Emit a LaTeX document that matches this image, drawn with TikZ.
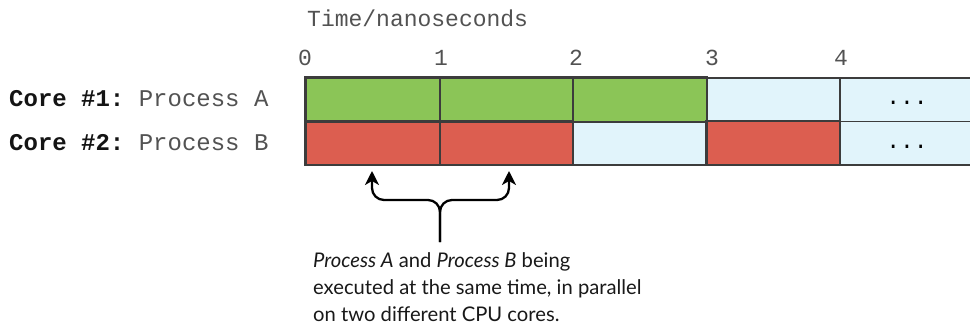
\documentclass[tikz,border=0pt]{standalone}
\usepackage{fontspec}
\setmonofont{Liberation Mono}
\newfontfamily\notefont{Lato}
\usetikzlibrary{arrows.meta}
\definecolor{cgreen}{HTML}{8BC557}
\definecolor{cred}{HTML}{DC5E50}
\definecolor{cidle}{HTML}{E1F4FB}
\definecolor{cedge}{HTML}{3C3C3C}
\begin{document}
\begin{tikzpicture}[x=1pt,y=-1pt,
  cell/.style={draw=cedge, line width=1.6pt, inner sep=0pt, anchor=north west,
    minimum height=43.5pt},
  mono/.style={font=\ttfamily\fontsize{23}{23}\selectfont, inner sep=0pt, text=black!68},
  rowlabel/.style={font=\ttfamily\fontsize{24}{24}\selectfont, inner sep=0pt, anchor=west, text=black!68},
  note/.style={font=\notefont\fontsize{20.2}{27}\selectfont, inner sep=0pt, anchor=north west, align=left, text=black!90},
  conn/.style={line width=2.3pt, rounded corners=12pt, -{Stealth[length=14pt,width=14pt,inset=4pt]}},
]
\clip (0,0) rectangle (970,327);
\fill[white] (0,0) rectangle (970,327);
% title
\node[mono, anchor=west] (title) at (307,18) {Time/nanoseconds};
% ticks
\node[mono] (t0) at (305,58) {0};
\node[mono] (t1) at (441,58) {1};
\node[mono] (t2) at (576,58) {2};
\node[mono] (t3) at (712,58) {3};
\node[mono] (t4) at (841,58) {4};
% row labels
\node[rowlabel] (l1) at (9,99) {\textcolor{black!92}{\textbf{Core \#1:}} Process A};
\node[rowlabel] (l2) at (9,143) {\textcolor{black!92}{\textbf{Core \#2:}} Process B};
% row 1
\node[cell, fill=cgreen, minimum width=134pt] (a0) at (305,77) {};
\node[cell, fill=cgreen, minimum width=133pt] (a1) at (439,77) {};
\node[cell, fill=cgreen, minimum width=134pt] (a2) at (572,77) {};
\node[cell, fill=cidle, minimum width=133pt] (a3) at (706,77) {};
\node[cell, fill=cidle, minimum width=150pt] (a4) at (839,77) {};
% row 2
\node[cell, fill=cred, minimum width=134pt] (b0) at (305,120.5) {};
\node[cell, fill=cred, minimum width=133pt] (b1) at (439,120.5) {};
\node[cell, fill=cidle, minimum width=134pt] (b2) at (572,120.5) {};
\node[cell, fill=cred, minimum width=133pt] (b3) at (706,120.5) {};
\node[cell, fill=cidle, minimum width=150pt] (b4) at (839,120.5) {};
% redraw the dark borders on top
\draw[cedge, line width=1.6pt] (a0.north west) rectangle (a2.south east);
\draw[cedge, line width=1.6pt] (b0.north west) rectangle (b1.south east);
\draw[cedge, line width=1.6pt] (b3.north west) rectangle (b3.south east);
% dots
\node[mono, text=black] (d1) at (907,103) {...};
\node[mono, text=black] (d2) at (907,147) {...};
% note
\node[note] (note) at (313,252) {\textit{Process A} and \textit{Process B} being\\executed at the same time, in parallel\\on two different CPU cores.};
% connectors
\coordinate (stem) at (440,242);
\coordinate (fork) at (440,200);
\coordinate (tipA) at (372,171);
\coordinate (tipB) at (509,171);
\draw[conn] (stem) -- (fork) -| (tipA);
\draw[conn] (stem) -- (fork) -| (tipB);
\end{tikzpicture}
\end{document}
